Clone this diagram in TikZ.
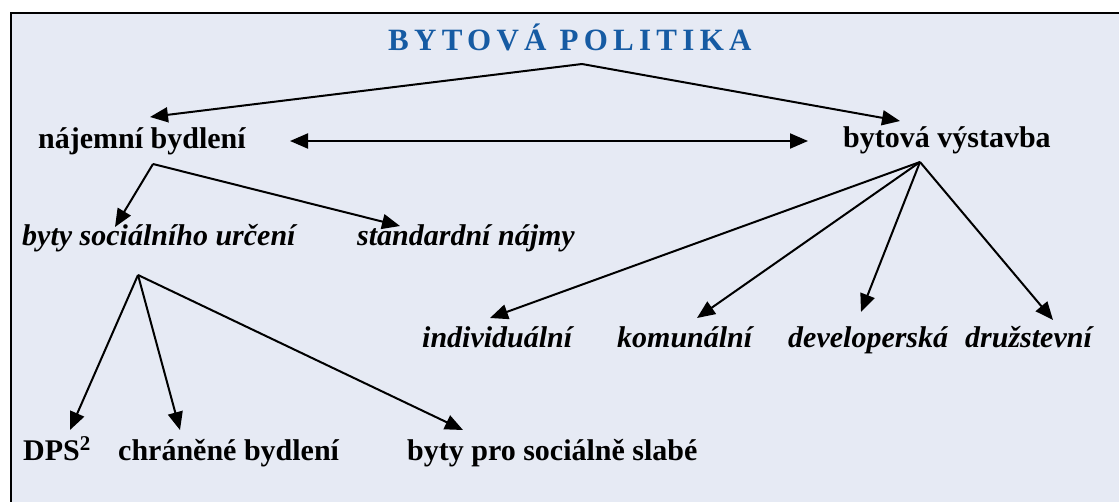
\documentclass[tikz,border=0pt]{standalone}
\usepackage{fontspec}
\setmainfont{Liberation Serif}
\newfontfamily\titlefont[LetterSpace=17]{Liberation Serif}
\usetikzlibrary{arrows.meta}
\definecolor{bgblue}{RGB}{230,234,244}
\definecolor{titleblue}{RGB}{22,91,163}
\begin{document}
\begin{tikzpicture}[x=1pt,y=-1pt,
  lbl/.style={anchor=base west,inner sep=0pt,font=\fontsize{30}{32}\selectfont\bfseries},
  ilbl/.style={lbl,font=\fontsize{30}{32}\selectfont\bfseries\itshape},
  conn/.style={line width=2pt,-{Triangle[length=18pt,width=15pt]}},
  dconn/.style={line width=2pt,{Triangle[length=18pt,width=15pt]}-{Triangle[length=18pt,width=15pt]}}]
\clip (0,0) rectangle (1119,501);
\fill[white] (0,0) rectangle (1119,501);
\draw[line width=2.2pt,fill=bgblue] (11,13) rectangle (1140,520);
\node[anchor=base west,inner sep=0pt,text=titleblue,font=\titlefont\fontsize{31}{34}\selectfont\bfseries] (title) at (388,50) {BYTOVÁ POLITIKA};
\node[lbl] (nb) at (38,148) {nájemní bydlení};
\node[lbl] (bv) at (843,147) {bytová výstavba};
\node[ilbl] (bsu) at (22,245) {byty sociálního určení};
\node[ilbl] (sn) at (357,245) {standardní nájmy};
\node[ilbl] (ind) at (422,347) {individuální};
\node[ilbl] (kom) at (617,347) {komunální};
\node[ilbl] (dev) at (788,347) {developerská};
\node[ilbl] (dru) at (965,347) {družstevní};
\node[lbl] (dps) at (23,460) {DPS\textsuperscript{2}};
\node[lbl] (chr) at (118,460) {chráněné bydlení};
\node[lbl] (bps) at (407,460) {byty pro sociálně slabé};
% connectors
\draw[conn] ([shift={(194,14)}]title.base west) -- ([shift={(112,-31)}]nb.base west);
\draw[conn] ([shift={(194,14)}]title.base west) -- ([shift={(57,-26)}]bv.base west);
\draw[dconn] ([shift={(252,-7)}]nb.base west) -- ([shift={(-35,-6)}]bv.base west);
\draw[conn] ([shift={(115,16)}]nb.base west) -- ([shift={(93,-18)}]bsu.base west);
\draw[conn] ([shift={(115,16)}]nb.base west) -- ([shift={(43,-19)}]sn.base west);
\draw[conn] ([shift={(77,15)}]bv.base west) -- ([shift={(68,-29)}]ind.base west);
\draw[conn] ([shift={(77,15)}]bv.base west) -- ([shift={(80,-29)}]kom.base west);
\draw[conn] ([shift={(77,15)}]bv.base west) -- ([shift={(73,-35)}]dev.base west);
\draw[conn] ([shift={(77,15)}]bv.base west) -- ([shift={(88,-27)}]dru.base west);
\draw[conn] ([shift={(116,30)}]bsu.base west) -- ([shift={(47,-30)}]dps.base west);
\draw[conn] ([shift={(116,30)}]bsu.base west) -- ([shift={(62,-30)}]chr.base west);
\draw[conn] ([shift={(116,30)}]bsu.base west) -- ([shift={(56,-30)}]bps.base west);
\end{tikzpicture}
\end{document}
